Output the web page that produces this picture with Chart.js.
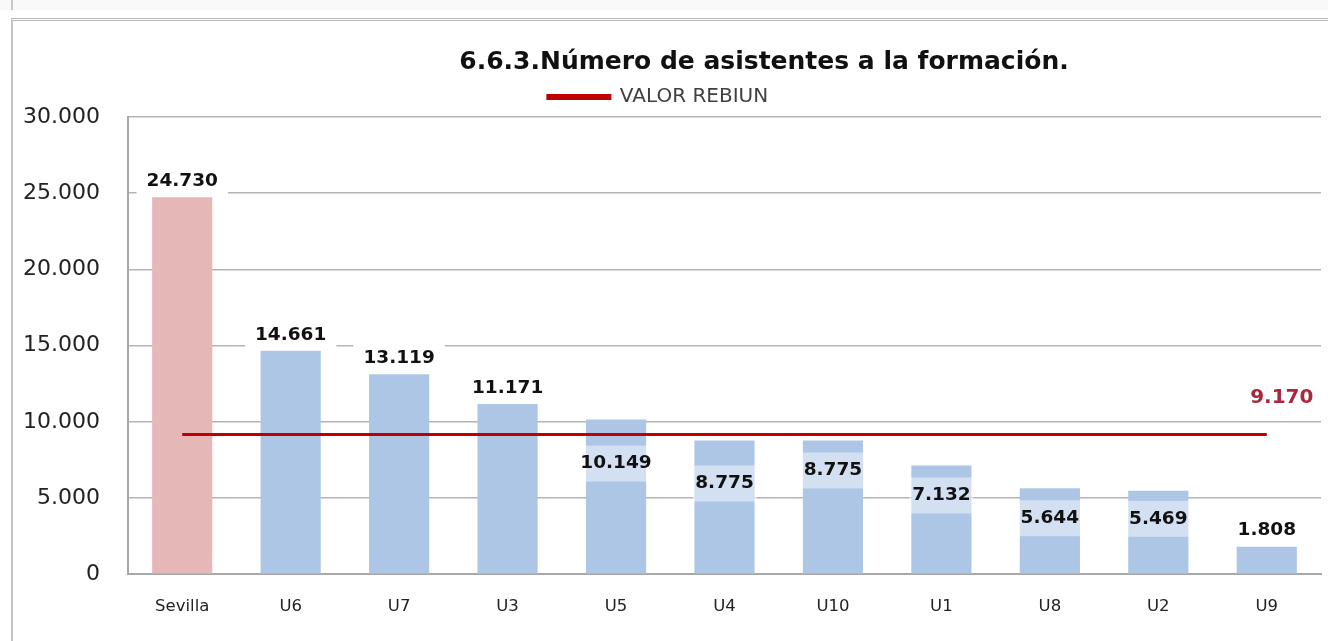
<!DOCTYPE html>
<html>
<head>
<meta charset="utf-8">
<script src="https://cdn.jsdelivr.net/npm/chart.js@4"></script>
<style>
  html, body { margin: 0; padding: 0; background: #fff; }
  body { width: 1328px; height: 641px; position: relative; overflow: hidden; font-family: "DejaVu Sans", sans-serif; }
  .strip { position: absolute; left: 0; top: 0; width: 1328px; height: 10px; background: #f9f9f9; }
  .stripline { position: absolute; left: 11px; top: 0; width: 2px; height: 10px; background: #c8c8c8; }
  .frame { position: absolute; left: 11px; top: 18px; width: 1330px; height: 640px; border-left: 2px solid #c4c4c4; border-top: 3px double #b8b8b8; }
  #wrap { position: absolute; left: 0; top: 0; width: 1328px; height: 641px; }
</style>
</head>
<body>
<div class="strip"></div>
<div class="stripline"></div>
<div class="frame"></div>
<div id="wrap"><canvas id="chart"></canvas></div>
<script>
const categories = ['Sevilla', 'U6', 'U7', 'U3', 'U5', 'U4', 'U10', 'U1', 'U8', 'U2', 'U9'];
const asistentes = [24730, 14661, 13119, 11171, 10149, 8775, 8775, 7132, 5644, 5469, 1808];
const valorRebiun = 9170;
const yTicks = [0, 5000, 10000, 15000, 20000, 25000, 30000];

const titleText = '6.6.3.Número de asistentes a la formación.';

function fmt(v) {
    return v.toLocaleString('de-DE');
}

// where each bar label sits: 'up' = above the bar, a number = px below the bar top
const labelPlace = ['up', 'up', 'up', 'up', 44, 43, 30, 30, 30, 28, 'up'];

const labelsPlugin = {
    id: 'labels',
    afterDatasetsDraw(chart) {
        const ctx = chart.ctx;
        const meta = chart.getDatasetMeta(0);
        ctx.save();
        ctx.font = 'bold 18.5px "DejaVu Sans"';
        ctx.textAlign = 'center';
        ctx.textBaseline = 'middle';
        meta.data.forEach((bar, i) => {
            const text = fmt(asistentes[i]);
            const w = ctx.measureText(text).width;
            let y;
            if (labelPlace[i] === 'up') {
                y = bar.y - 16;
                ctx.fillStyle = '#fff';
                ctx.fillRect(bar.x - w / 2 - 10, y - 14, w + 20, 27);
            } else {
                y = bar.y + labelPlace[i];
                ctx.fillStyle = 'rgba(255,255,255,0.45)';
                const bw = Math.max(bar.width, w + 6);
                ctx.fillRect(bar.x - bw / 2, y - 18, bw, 36);
            }
            ctx.fillStyle = '#111';
            ctx.fillText(text, bar.x, y);
        });

        // value of the REBIUN line at its right end
        const line = chart.getDatasetMeta(1).data;
        const last = line[line.length - 1];
        ctx.font = 'bold 20px "DejaVu Sans"';
        ctx.fillStyle = '#a8283c';
        ctx.fillText(fmt(valorRebiun), last.x + 15, last.y - 37);

        // title
        ctx.font = 'bold 25px "DejaVu Sans"';
        ctx.fillStyle = '#111';
        ctx.fillText(titleText, 764, 62);
        ctx.restore();
    }
};

const ctx = document.getElementById('chart').getContext('2d');
new Chart(ctx, {
    type: 'bar',
    data: {
        labels: categories,
        datasets: [{
            label: 'Asistentes',
            data: asistentes,
            backgroundColor: asistentes.map((v, i) => i === 0 ? '#e5b8b7' : '#adc6e6'),
            categoryPercentage: 1,
            barPercentage: 0.555,
            order: 1
        }, {
            type: 'line',
            label: 'VALOR REBIUN',
            data: categories.map(() => valorRebiun),
            borderColor: '#c00000',
            backgroundColor: '#c00000',
            borderWidth: 3,
            pointRadius: 0,
            order: 0
        }]
    },
    options: {
        responsive: true,
        maintainAspectRatio: false,
        animation: false,
        layout: { padding: { left: -5, right: 7, top: 81, bottom: 1 } },
        plugins: {
            legend: {
                position: 'top',
                labels: {
                    filter: item => item.text === 'VALOR REBIUN',
                    boxWidth: 62,
                    boxHeight: 3,
                    color: '#404040',
                    font: { family: 'DejaVu Sans', size: 20 },
                    padding: 6
                }
            },
            title: { display: false },
            tooltip: { enabled: false }
        },
        scales: {
            x: {
                grid: { display: false, drawTicks: false },
                border: { display: true, color: '#a8a8a8', width: 2 },
                ticks: { color: '#222', font: { family: 'DejaVu Sans', size: 16.5 }, padding: 23 }
            },
            y: {
                min: 0,
                max: 30000,
                afterBuildTicks: scale => { scale.ticks = yTicks.map(v => ({ value: v })); },
                grid: { color: '#b4b4b4', lineWidth: 1.5, drawTicks: false },
                border: { display: true, color: '#a8a8a8', width: 2 },
                ticks: {
                    color: '#222',
                    font: { family: 'DejaVu Sans', size: 22 },
                    padding: 28,
                    callback: v => fmt(v)
                }
            }
        }
    },
    plugins: [labelsPlugin]
});
</script>
</body>
</html>
